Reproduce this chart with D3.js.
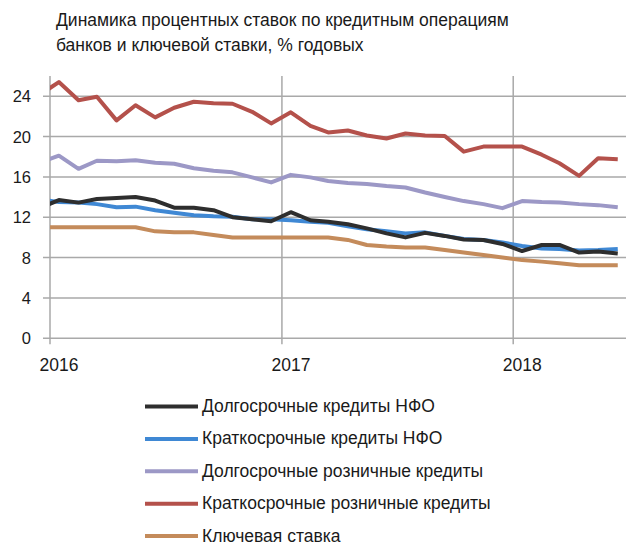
<!DOCTYPE html>
<html>
<head>
<meta charset="utf-8">
<script src="https://cdn.jsdelivr.net/npm/d3@7"></script>
<style>
  body { margin: 0; background: #fff; }
  text { font-family: "Liberation Sans", Arial, sans-serif; fill: #1a1a1a; }
</style>
</head>
<body>
<div id="chart"></div>
<script>
// monthly values, Dec 2015 .. Jun 2018 (the first month only feeds the clipped edge)
const months = [
    "2015-12",
    "2016-01", "2016-02", "2016-03", "2016-04", "2016-05", "2016-06",
    "2016-07", "2016-08", "2016-09", "2016-10", "2016-11", "2016-12",
    "2017-01", "2017-02", "2017-03", "2017-04", "2017-05", "2017-06",
    "2017-07", "2017-08", "2017-09", "2017-10", "2017-11", "2017-12",
    "2018-01", "2018-02", "2018-03", "2018-04", "2018-05", "2018-06"
];

const longNfo = [12.9,
    13.7, 13.45, 13.8, 13.9, 14.0, 13.65, 12.95, 12.95, 12.7, 12.0, 11.8, 11.6,
    12.5, 11.7, 11.55, 11.3, 10.9, 10.4, 10.0, 10.45, 10.15, 9.8, 9.75, 9.35,
    8.65, 9.25, 9.25, 8.5, 8.6, 8.4];

const shortNfo = [13.8,
    13.5, 13.45, 13.3, 13.0, 13.05, 12.7, 12.45, 12.2, 12.1, 12.05, 11.8, 11.8,
    11.7, 11.55, 11.45, 11.1, 10.8, 10.6, 10.4, 10.5, 10.15, 9.85, 9.75, 9.5,
    9.15, 8.9, 8.85, 8.7, 8.75, 8.85];

const longRetail = [17.4,
    18.1, 16.8, 17.6, 17.55, 17.65, 17.4, 17.3, 16.85, 16.6, 16.45, 15.95, 15.45,
    16.2, 15.95, 15.6, 15.4, 15.3, 15.1, 14.95, 14.45, 14.0, 13.6, 13.3, 12.9,
    13.6, 13.5, 13.45, 13.3, 13.2, 13.0];

const shortRetail = [24.1,
    25.4, 23.6, 23.95, 21.6, 23.1, 21.9, 22.85, 23.45, 23.3, 23.25, 22.45, 21.3,
    22.4, 21.05, 20.4, 20.6, 20.1, 19.8, 20.3, 20.1, 20.05, 18.5, 19.0, 19.0,
    19.0, 18.2, 17.35, 16.1, 17.85, 17.75];

const keyRate = [11.0,
    11.0, 11.0, 11.0, 11.0, 11.0, 10.6, 10.5, 10.5, 10.25, 10.0, 10.0, 10.0,
    10.0, 10.0, 10.0, 9.75, 9.25, 9.1, 9.0, 9.0, 8.75, 8.5, 8.25, 8.0,
    7.75, 7.6, 7.45, 7.25, 7.25, 7.25];

const seriesNames = [
    "Долгосрочные кредиты НФО",
    "Краткосрочные кредиты НФО",
    "Долгосрочные розничные кредиты",
    "Краткосрочные розничные кредиты",
    "Ключевая ставка"
];
const seriesValues = [longNfo, shortNfo, longRetail, shortRetail, keyRate];
const seriesColors = ["#2e2e2e", "#3f88d4", "#9c98c6", "#b4514b", "#c48b5b"];

const titleLines = [
    "Динамика процентных ставок по кредитным операциям",
    "банков и ключевой ставки, % годовых"
];
const yTicks = [0, 4, 8, 12, 16, 20, 24];

const width = 626;
const height = 545;

const svg = d3.select("#chart")
    .append("svg")
    .attr("width", width)
    .attr("height", height);

const parseMonth = d3.timeParse("%Y-%m");
// points sit in the middle of each month
const dates = months.map(m => d3.timeDay.offset(parseMonth(m), 14));

const x = d3.scaleTime()
    .domain([new Date(2016, 0, 1), new Date(2018, 5, 28)])
    .range([50, 626]);

const y = d3.scaleLinear()
    .domain([0, 26])
    .range([338.3, 76]);

// title
svg.selectAll(".title")
    .data(titleLines)
    .join("text")
    .attr("class", "title")
    .attr("x", 56)
    .attr("y", (d, i) => 26 + i * 24.5)
    .style("font-size", "17.5px")
    .text(d => d);

// horizontal grid
svg.selectAll(".hgrid")
    .data(yTicks)
    .join("line")
    .attr("class", "hgrid")
    .attr("x1", 43)
    .attr("x2", 626)
    .attr("y1", d => y(d))
    .attr("y2", d => y(d))
    .attr("stroke", "#a9a9a9")
    .attr("stroke-width", 1.5);

// vertical grid at year starts
const yearTicks = x.ticks(d3.timeYear.every(1));
svg.selectAll(".vgrid")
    .data(yearTicks)
    .join("line")
    .attr("class", "vgrid")
    .attr("x1", d => x(d))
    .attr("x2", d => x(d))
    .attr("y1", y(26))
    .attr("y2", y(0) + 6)
    .attr("stroke", "#a9a9a9")
    .attr("stroke-width", 1.5);

svg.selectAll(".ylabel")
    .data(yTicks)
    .join("text")
    .attr("class", "ylabel")
    .attr("x", 31)
    .attr("y", d => y(d) + 6)
    .attr("text-anchor", "end")
    .style("font-size", "16.5px")
    .text(d => d);

svg.selectAll(".xlabel")
    .data(yearTicks)
    .join("text")
    .attr("class", "xlabel")
    .attr("x", d => x(d) + 9)
    .attr("y", 371)
    .attr("text-anchor", "middle")
    .style("font-size", "17.5px")
    .text(d => d3.timeFormat("%Y")(d));

svg.append("clipPath")
    .attr("id", "plot-clip")
    .append("rect")
    .attr("x", x.range()[0])
    .attr("y", 0)
    .attr("width", x.range()[1] - x.range()[0])
    .attr("height", height);

const line = d3.line()
    .x((d, i) => x(dates[i]))
    .y(d => y(d));

// draw in reverse so the first series sits on top
const order = [4, 3, 2, 1, 0];
svg.append("g")
    .attr("clip-path", "url(#plot-clip)")
    .selectAll("path")
    .data(order)
    .join("path")
    .attr("d", k => line(seriesValues[k]))
    .attr("fill", "none")
    .attr("stroke", k => seriesColors[k])
    .attr("stroke-width", 4)
    .attr("stroke-linejoin", "round");

// legend
const legend = svg.selectAll(".legend")
    .data(seriesNames)
    .join("g")
    .attr("class", "legend")
    .attr("transform", (d, i) => `translate(145, ${406.5 + i * 32.4})`);

legend.append("line")
    .attr("x1", 0)
    .attr("x2", 53)
    .attr("stroke", (d, i) => seriesColors[i])
    .attr("stroke-width", 4);

legend.append("text")
    .attr("x", 57)
    .attr("y", 5.5)
    .style("font-size", "17.5px")
    .text(d => d);
</script>
</body>
</html>
